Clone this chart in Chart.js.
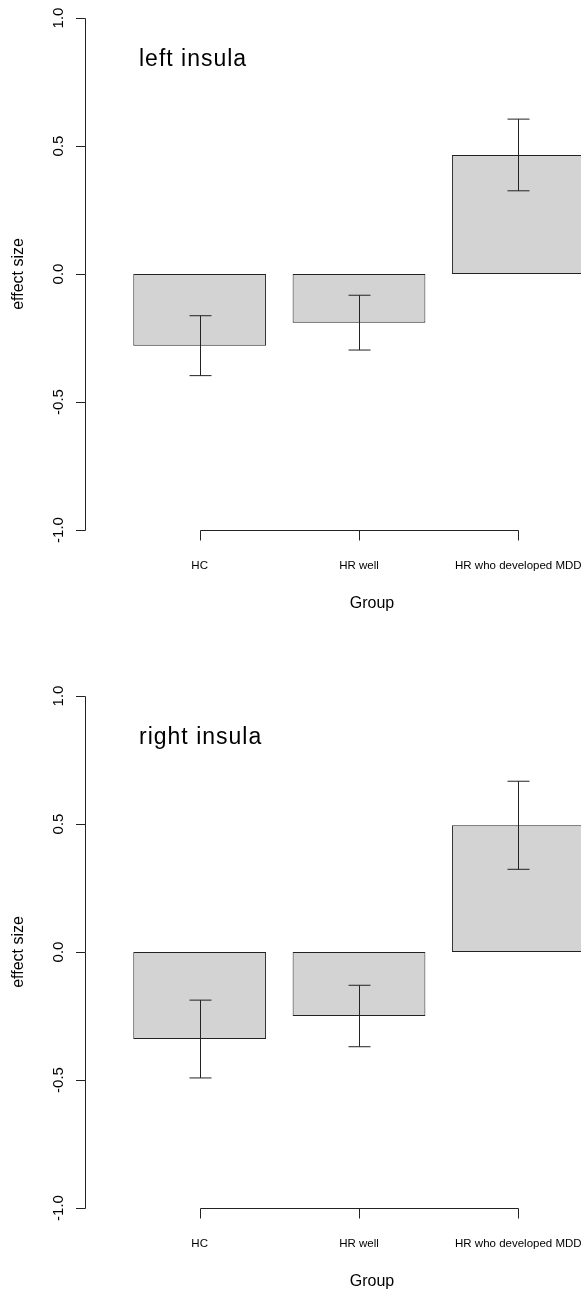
<!DOCTYPE html>
<html>
<head>
<meta charset="utf-8">
<script src="https://cdn.jsdelivr.net/npm/chart.js"></script>
<style>
  body { margin: 0; overflow: hidden; background: #fff; width: 581px; height: 1290px; position: relative; }
  .panel { position: absolute; left: 0; width: 640px; height: 678px; }
</style>
</head>
<body>
<div class="panel" style="top:0px"><canvas id="leftChart" width="640" height="678"></canvas></div>
<div class="panel" style="top:678px"><canvas id="rightChart" width="640" height="678"></canvas></div>
<script>
let groups = ["HC", "HR well", "HR who developed MDD"];
let leftMeans = [-0.28, -0.19, 0.465];
let leftErrors = [0.117, 0.107, 0.14];
let rightMeans = [-0.34, -0.25, 0.495];
let rightErrors = [0.152, 0.12, 0.172];
let yTicks = [-1.0, -0.5, 0.0, 0.5, 1.0];

const FONT = "'Liberation Sans', Arial, sans-serif";
const INK = "#222";

// R-style error bars drawn on top of each bar
const errorBarPlugin = {
  id: "errorBars",
  afterDatasetsDraw(chart, args, opts) {
    const ctx = chart.ctx;
    const yScale = chart.scales.y;
    const meta = chart.getDatasetMeta(0);
    const values = chart.data.datasets[0].data;
    ctx.save();
    ctx.strokeStyle = INK;
    ctx.lineWidth = 1;
    meta.data.forEach((bar, i) => {
      let x = Math.round(bar.x) + 0.5;
      let hi = yScale.getPixelForValue(values[i] + opts.errors[i]);
      let lo = yScale.getPixelForValue(values[i] - opts.errors[i]);
      ctx.beginPath();
      ctx.moveTo(x, hi);
      ctx.lineTo(x, lo);
      ctx.moveTo(x - 11, hi);
      ctx.lineTo(x + 11, hi);
      ctx.moveTo(x - 11, lo);
      ctx.lineTo(x + 11, lo);
      ctx.stroke();
    });
    ctx.restore();
  },
};

// axes, labels and title the way base R draws them
const rAxesPlugin = {
  id: "rAxes",
  afterDraw(chart, args, opts) {
    const ctx = chart.ctx;
    const yScale = chart.scales.y;
    const xScale = chart.scales.x;
    ctx.save();
    ctx.strokeStyle = INK;
    ctx.fillStyle = "#000";
    ctx.lineWidth = 1;

    // y axis
    let yTop = Math.round(yScale.getPixelForValue(yTicks[yTicks.length - 1])) + 0.5;
    let yBottom = Math.round(yScale.getPixelForValue(yTicks[0])) + 0.5;
    ctx.beginPath();
    ctx.moveTo(85.5, yTop);
    ctx.lineTo(85.5, yBottom);
    yTicks.forEach((t) => {
      let py = Math.round(yScale.getPixelForValue(t)) + 0.5;
      ctx.moveTo(76, py);
      ctx.lineTo(85.5, py);
    });
    ctx.stroke();

    ctx.font = "15px " + FONT;
    ctx.textAlign = "center";
    ctx.textBaseline = "alphabetic";
    yTicks.forEach((t) => {
      ctx.save();
      ctx.translate(63, yScale.getPixelForValue(t));
      ctx.rotate(-Math.PI / 2);
      ctx.fillText(t.toFixed(1), 0, 0);
      ctx.restore();
    });

    ctx.font = "16px " + FONT;
    ctx.save();
    ctx.translate(23, yScale.getPixelForValue(0));
    ctx.rotate(-Math.PI / 2);
    ctx.fillText("effect size", 0, 0);
    ctx.restore();

    // x axis, hanging at the bottom of the y range
    let first = Math.round(xScale.getPixelForValue(0)) + 0.5;
    let last = Math.round(xScale.getPixelForValue(groups.length - 1)) + 0.5;
    ctx.beginPath();
    ctx.moveTo(first, yBottom);
    ctx.lineTo(last, yBottom);
    groups.forEach((g, i) => {
      let px = Math.round(xScale.getPixelForValue(i)) + 0.5;
      ctx.moveTo(px, yBottom);
      ctx.lineTo(px, yBottom + 10);
    });
    ctx.stroke();

    ctx.font = "11.5px " + FONT;
    groups.forEach((g, i) => {
      ctx.fillText(g, xScale.getPixelForValue(i), yBottom + 38);
    });

    ctx.font = "16px " + FONT;
    ctx.fillText("Group", 372, yBottom + 77);

    // panel title
    ctx.font = "23px " + FONT;
    ctx.textAlign = "left";
    ctx.letterSpacing = "1px";
    ctx.fillText(opts.title, 139, 66);
    ctx.restore();
  },
};

function drawPanel(canvasId, title, means, errors) {
  const ctx = document.getElementById(canvasId);
  new Chart(ctx, {
    type: "bar",
    data: {
      labels: groups,
      datasets: [
        {
          data: means,
          backgroundColor: "#d3d3d3",
          borderColor: INK,
          borderWidth: 1,
          borderSkipped: false,
          barPercentage: 0.8333,
          categoryPercentage: 1,
        },
      ],
    },
    options: {
      responsive: false,
      animation: false,
      layout: {
        padding: { left: 120, right: 42, top: 18, bottom: 148 },
      },
      scales: {
        x: { type: "category", display: false, offset: true },
        y: { min: -1, max: 1, display: false },
      },
      plugins: {
        legend: { display: false },
        tooltip: { enabled: false },
        errorBars: { errors: errors },
        rAxes: { title: title },
      },
    },
    plugins: [errorBarPlugin, rAxesPlugin],
  });
}

drawPanel("leftChart", "left insula", leftMeans, leftErrors);
drawPanel("rightChart", "right insula", rightMeans, rightErrors);
</script>
</body>
</html>
